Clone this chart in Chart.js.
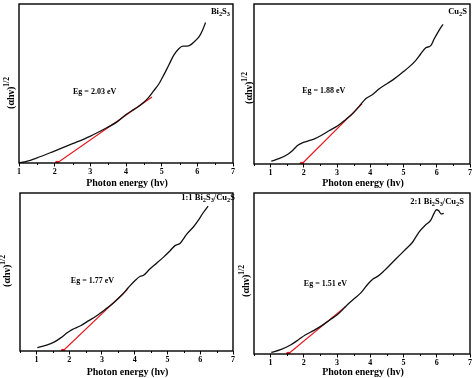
<!DOCTYPE html>
<html><head><meta charset="utf-8">
<script src="https://cdn.jsdelivr.net/npm/chart.js@4.4.1/dist/chart.umd.min.js"></script>
<style>
html,body{margin:0;padding:0;background:#fff;width:474px;height:378px;overflow:hidden}
.p{position:absolute;width:237px;height:189px}
canvas{display:block}
</style></head><body>
<div class="p" style="left:0;top:0"><canvas id="c1" width="237" height="189"></canvas></div>
<div class="p" style="left:237px;top:0"><canvas id="c2" width="237" height="189"></canvas></div>
<div class="p" style="left:0;top:189px"><canvas id="c3" width="237" height="189"></canvas></div>
<div class="p" style="left:237px;top:189px"><canvas id="c4" width="237" height="189"></canvas></div>
<script>
// ---- data ----
const majorTicks = [1, 2, 3, 4, 5, 6, 7];
const minorTicksA = [1.5, 2.5, 3.5, 4.5, 5.5, 6.5];
const minorTicksB = [0.5, 1.5, 2.5, 3.5, 4.5, 5.5, 6.5];

const sampleNames = ['Bi_2S_3', 'Cu_2S', '1:1 Bi_2S_3/Cu_2S', '2:1 Bi_2S_3/Cu_2S'];
const egLabels = ['Eg = 2.03 eV', 'Eg = 1.88 eV', 'Eg = 1.77 eV', 'Eg = 1.51 eV'];
const xTitle = 'Photon energy (hv)';
const yTitle = '(αhν)^{1/2}';

// Bi2S3
const e1 = [1.0, 1.21, 1.49, 1.96, 2.52, 2.99, 3.46, 3.74, 4.02, 4.16, 4.31, 4.49, 4.63, 4.77, 4.92, 5.06, 5.20, 5.34, 5.48, 5.60, 5.71, 5.81, 5.90, 6.04, 6.14, 6.23];
const a1 = [0.0, 1.0, 3.1, 7.2, 12.3, 16.8, 22.2, 25.7, 30.8, 32.9, 34.9, 38.0, 41.1, 45.2, 49.7, 55.4, 61.6, 67.8, 71.9, 73.5, 73.5, 74.3, 76.0, 79.1, 83.2, 88.3];
const t1x = [2.07, 4.73];
const t1y = [0, 41.5];
// Cu2S
const e2 = [1.02, 1.27, 1.52, 1.67, 1.82, 1.97, 2.12, 2.32, 2.52, 2.77, 3.02, 3.27, 3.47, 3.67, 3.87, 4.07, 4.27, 4.52, 4.72, 4.97, 5.17, 5.37, 5.52, 5.67, 5.82, 5.92, 6.02, 6.12, 6.19];
const a2 = [1.8, 3.5, 6.1, 8.6, 11.7, 13.3, 14.3, 15.7, 17.8, 20.9, 23.9, 28.0, 31.5, 36.2, 40.9, 43.4, 47.0, 50.5, 53.2, 57.3, 60.7, 64.8, 68.9, 72.6, 74.0, 78.1, 81.8, 85.3, 87.3];
const t2x = [1.94, 3.75];
const t2y = [0, 37.6];
// 1:1 Bi2S3/Cu2S
const e3 = [1.03, 1.28, 1.54, 1.74, 1.94, 2.09, 2.35, 2.60, 2.85, 3.11, 3.36, 3.61, 3.81, 4.02, 4.17, 4.27, 4.47, 4.67, 4.88, 5.08, 5.23, 5.38, 5.59, 5.79, 5.94, 6.09, 6.24];
const a3 = [2.1, 3.5, 5.6, 8.3, 11.5, 13.5, 16.0, 19.2, 22.5, 26.5, 30.6, 35.4, 40.2, 44.8, 47.3, 47.9, 52.1, 55.6, 59.4, 63.5, 66.7, 68.1, 74.0, 78.5, 82.7, 87.5, 91.7];
const t3x = [1.81, 3.78];
const t3y = [0, 39.0];
// 2:1 Bi2S3/Cu2S
const e4 = [1.02, 1.30, 1.60, 1.84, 2.04, 2.29, 2.54, 2.79, 3.03, 3.28, 3.53, 3.73, 3.93, 4.08, 4.22, 4.42, 4.62, 4.87, 5.07, 5.27, 5.46, 5.66, 5.81, 5.91, 5.99, 6.06, 6.13, 6.21];
const a4 = [1.0, 2.7, 5.6, 8.9, 11.8, 14.5, 17.6, 21.3, 24.8, 30.0, 34.6, 38.3, 43.5, 46.6, 48.2, 51.8, 55.9, 61.1, 65.2, 69.4, 75.6, 80.1, 82.8, 87.0, 89.6, 89.0, 87.0, 87.4];
const t4x = [1.53, 3.26];
const t4y = [0, 29.6];

const egPos = [[3.12, 45.0], [2.60, 45.4], [2.71, 44.4], [2.65, 43.5]];

// ---- rendering helpers ----
const FONT = '"Liberation Serif", "Times New Roman", serif';
function parseRich(s) {
  const segs = [];
  for (let i = 0; i < s.length; i++) {
    const c = s[i];
    if (c === '_') { segs.push({t: s[i + 1], k: 'sub'}); i++; }
    else if (c === '^' && s[i + 1] === '{') {
      const j = s.indexOf('}', i);
      segs.push({t: s.slice(i + 2, j), k: 'sup'}); i = j;
    } else {
      if (segs.length && segs[segs.length - 1].k === 'n') segs[segs.length - 1].t += c;
      else segs.push({t: c, k: 'n'});
    }
  }
  return segs;
}
function drawRich(ctx, s, x, y, size, align) {
  const segs = parseRich(s);
  const f = k => (k === 'n' ? size : size * 0.75);
  let w = 0;
  segs.forEach(g => { ctx.font = 'bold ' + f(g.k) + 'px ' + FONT; g.w = ctx.measureText(g.t).width; w += g.w; });
  let cx = align === 'right' ? x - w : align === 'center' ? x - w / 2 : x;
  ctx.textBaseline = 'middle';
  ctx.textAlign = 'left';
  segs.forEach(g => {
    ctx.font = 'bold ' + f(g.k) + 'px ' + FONT;
    const dy = g.k === 'sub' ? size * 0.3 : g.k === 'sup' ? -size * 0.35 : 0;
    ctx.fillText(g.t, cx, y + dy);
    cx += g.w;
  });
}

const decor = {
  id: 'decor',
  afterDraw(chart, args, o) {
    const {ctx, chartArea: a, scales: {x, y}} = chart;
    ctx.save();
    ctx.strokeStyle = '#000';
    ctx.lineWidth = 1;
    o.minor.forEach(v => {
      const px = Math.round(x.getPixelForValue(v)) + 0.5;
      ctx.beginPath(); ctx.moveTo(px, a.bottom); ctx.lineTo(px, a.bottom + 2); ctx.stroke();
    });
    ctx.lineWidth = 1.4;
    ctx.strokeRect(a.left, a.top, a.right - a.left, a.bottom - a.top);
    ctx.fillStyle = '#000';
    drawRich(ctx, o.name, a.right + o.nameDx, a.top + o.nameDy, 8.5, 'right');
    drawRich(ctx, o.eg, x.getPixelForValue(o.egAt[0]), y.getPixelForValue(o.egAt[1]), 8, 'center');
    drawRich(ctx, xTitle, (a.left + a.right) / 2 + 1, 183, 10, 'center');
    ctx.translate(o.yt[0], o.yt[1]);
    ctx.rotate(-Math.PI / 2);
    drawRich(ctx, yTitle, 0, 0, 10, 'center');
    ctx.restore();
  }
};

function pts(xs, ys) { return xs.map((v, i) => ({x: v, y: ys[i]})); }

function makeChart(id, p) {
  new Chart(document.getElementById(id), {
    type: 'scatter',
    data: {datasets: [
      {data: pts(p.ex, p.ay), showLine: true, borderColor: '#111', borderWidth: 1.3, pointRadius: 0, cubicInterpolationMode: 'monotone'},
      {data: pts(p.tx, p.ty), showLine: true, borderColor: '#e8161c', borderWidth: 1.2, pointRadius: [2.2, 0], pointBackgroundColor: '#e8161c', pointBorderWidth: 0}
    ]},
    options: {
      responsive: false, animation: false, events: [],
      layout: {padding: {left: p.pad[0], top: p.pad[1], right: p.pad[2], bottom: 0}},
      plugins: {legend: {display: false}, tooltip: {enabled: false},
        decor: {minor: p.minor, name: p.name, nameDx: p.nameD[0], nameDy: p.nameD[1], eg: p.eg, egAt: p.egAt, yt: p.yt}},
      scales: {
        x: {type: 'linear', min: p.xmin, max: 7,
          afterBuildTicks: s => { s.ticks = majorTicks.map(v => ({value: v})); },
          afterFit: s => { s.height = p.xh; },
          ticks: {color: '#000', font: {family: FONT, weight: 'bold', size: 8}, padding: 1, maxRotation: 0, autoSkip: false, callback: v => String(v)},
          grid: {display: true, drawOnChartArea: false, drawTicks: true, tickLength: 3.5, color: '#000', lineWidth: 1},
          border: {display: false}},
        y: {min: 0, max: 100, afterFit: s => { s.width = 0; },
          ticks: {display: false}, grid: {display: false}, border: {display: false}}
      }
    },
    plugins: [decor]
  });
}

makeChart('c1', {ex: e1, ay: a1, tx: t1x, ty: t1y, xmin: 1, minor: minorTicksA, pad: [19, 1, 4], xh: 26,
  name: sampleNames[0], nameD: [-3, 8], eg: egLabels[0], egAt: egPos[0], yt: [11, 93]});
makeChart('c2', {ex: e2, ay: a2, tx: t2x, ty: t2y, xmin: 0.5, minor: minorTicksB, pad: [17, 1, 2], xh: 25,
  name: sampleNames[1], nameD: [-3, 8], eg: egLabels[1], egAt: egPos[1], yt: [12, 88]});
makeChart('c3', {ex: e3, ay: a3, tx: t3x, ty: t3y, xmin: 0.5, minor: minorTicksB, pad: [20, 2, 4], xh: 27,
  name: sampleNames[2], nameD: [2, 5], eg: egLabels[2], egAt: egPos[2], yt: [7, 82]});
makeChart('c4', {ex: e4, ay: a4, tx: t4x, ty: t4y, xmin: 0.5, minor: minorTicksB, pad: [17, 4, 2], xh: 24,
  name: sampleNames[3], nameD: [-6, 9], eg: egLabels[3], egAt: egPos[3], yt: [9, 92]});
</script>
</body></html>
